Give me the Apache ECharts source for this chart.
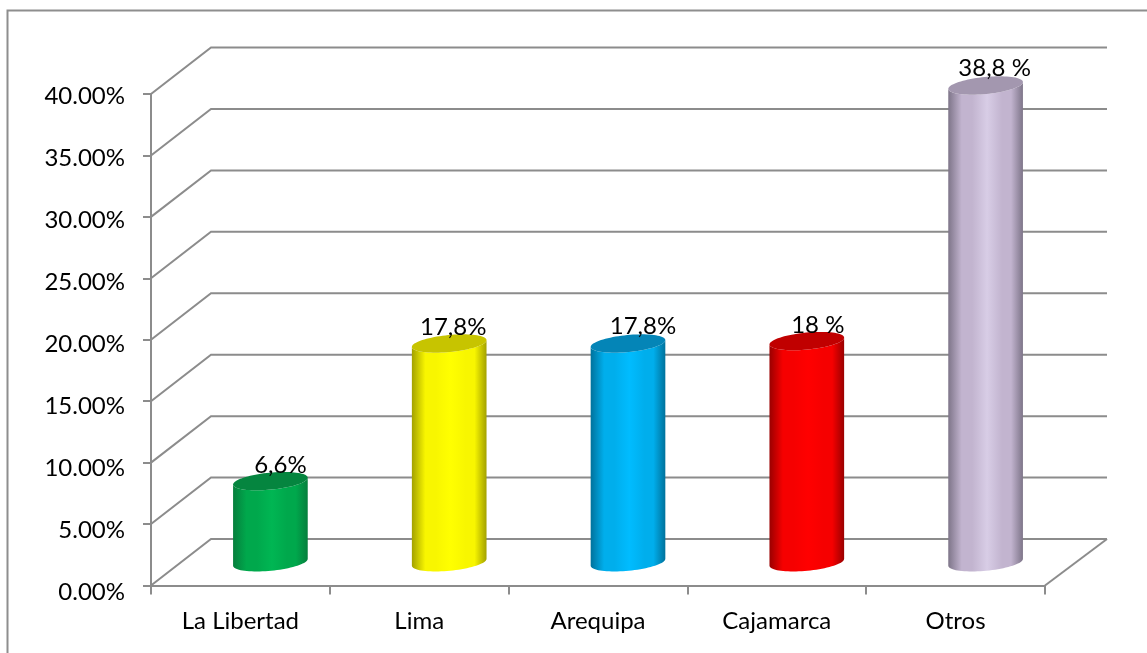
<!DOCTYPE html>
<html><head><meta charset="utf-8">
<style>html,body{margin:0;padding:0;background:#fff;overflow:hidden}#c{width:1147px;height:653px}</style>
<script src="https://cdn.jsdelivr.net/npm/echarts@6/dist/echarts.min.js"></script>
</head><body><div id="c"></div>
<script>
const categories = ['La Libertad','Lima','Arequipa','Cajamarca','Otros'];
const values = [6.6,17.8,17.8,18,38.8];
const valueLabels = ['6,6%','17,8%','17,8%','18 %','38,8 %'];
const labelShift = [[10,-7],[4,-8],[15,-9],[11,-7],[9,-9]];
const gridValues = [0,5,10,15,20,25,30,35,40];
const bodyDark = ['#067F3D','#A3A100','#00729C','#9A0000','#7E7589'];
const bodyMid = ['#00A84C','#F8F600','#00AEEC','#F60000','#C2B4CF'];
const bodyLight = ['#00B653','#FFFF00','#00BCFF','#FF0000','#D8CDE6'];
const topColor = ['#05853F','#C7C400','#0485B7','#C00000','#A397AF'];

const FONT = 'Lato';
const LINE = '#8C8C8C';
const DX = 60, DY = -46.5;

function ellipsePts(cx, cy, a, b, tilt, from, to, n) {
  const out = [];
  for (let i = 0; i <= n; i++) {
    const t = from + (to - from) * i / n;
    const x = a * Math.cos(t), y = b * Math.sin(t);
    out.push([cx + x * Math.cos(tilt) - y * Math.sin(tilt), cy + x * Math.sin(tilt) + y * Math.cos(tilt)]);
  }
  return out;
}
const chart = echarts.init(document.getElementById('c'), null, {renderer:'canvas'});
chart.setOption({
  animation:false,
  backgroundColor:'#fff',
  graphic:[{type:'rect',z:-10,shape:{x:7.5,y:10.5,width:1200,height:700},style:{fill:'#fff',stroke:'#8E8E8E',lineWidth:2}}],
  grid:[
    {left:151,right:102,top:94,bottom:67.5,containLabel:false},
    {left:151,right:102,top:96.7,height:496,containLabel:false}
  ],
  xAxis:[
    {type:'category',data:categories,gridIndex:0,
     axisLine:{show:true,onZero:false,lineStyle:{color:LINE,width:2}},
     axisTick:{show:true,alignWithLabel:false,length:9,lineStyle:{color:LINE,width:2}},
     axisLabel:{color:'#000',fontFamily:FONT,fontSize:24,margin:24,interval:0},
     splitLine:{show:false}},
    {type:'category',data:categories,gridIndex:1,show:false}
  ],
  yAxis:[
    {type:'value',min:0,max:40,interval:5,gridIndex:0,
     axisLine:{show:true,lineStyle:{color:LINE,width:2}},
     axisTick:{show:true,length:8,lineStyle:{color:LINE,width:2}},
     axisLabel:{show:false},
     splitLine:{show:false}},
    {type:'value',min:0,max:40,interval:5,gridIndex:1,
     axisLine:{show:false},axisTick:{show:false},splitLine:{show:false},
     axisLabel:{color:'#000',fontFamily:FONT,fontSize:24,margin:26,padding:[5,0,0,0],formatter:v=>v.toFixed(2)+'%'}}
  ],
  series:[
    {type:'custom',z:1,silent:true,coordinateSystem:'cartesian2d',xAxisIndex:0,yAxisIndex:0,
     data:gridValues.map(v=>[0,v]),
     renderItem(p,api){
       const y=api.coord([0,api.value(1)])[1];
       const cs=p.coordSys;
       return {type:'polyline',shape:{points:[[cs.x,y],[cs.x+DX,y+DY],[cs.x+cs.width+DX+2,y+DY]]},
         style:{fill:null,stroke:LINE,lineWidth:2}};
     }},
    {type:'custom',z:1,silent:true,coordinateSystem:'cartesian2d',xAxisIndex:0,yAxisIndex:0,
     data:[0],
     renderItem(p,api){
       const cs=p.coordSys, b=cs.y+cs.height;
       return {type:'line',shape:{x1:cs.x+cs.width,y1:b,x2:cs.x+cs.width+DX+2,y2:b+DY},style:{stroke:LINE,lineWidth:2}};
     }},
    {type:'custom',z:3,silent:true,coordinateSystem:'cartesian2d',xAxisIndex:0,yAxisIndex:0,
     data:values.map((v,i)=>[i,v]),
     encode:{x:0,y:1},
     renderItem(p,api){
       const i=api.value(0), v=api.value(1);
       const top=api.coord([i,v]), base=api.coord([i,0]);
       const cx=top[0]+DX/2, ty=top[1]+DY/2, by=base[1]+DY/2;
       const a=37.5,b=8.5,tilt=-5.5*Math.PI/180;
       const lower=ellipsePts(cx,by,a,b,tilt,Math.PI,0,40);
       const upper=ellipsePts(cx,ty,a,b,tilt,0,Math.PI,40);
       const body=lower.concat(upper);
       const grad=new echarts.graphic.LinearGradient(0,0,1,0,[
         {offset:0,color:bodyDark[i]},{offset:0.18,color:bodyMid[i]},{offset:0.32,color:bodyMid[i]},
         {offset:0.52,color:bodyLight[i]},{offset:0.72,color:bodyMid[i]},{offset:0.84,color:bodyMid[i]},{offset:1,color:bodyDark[i]}]);
       return {type:'group',children:[
         {type:'polygon',shape:{points:body},style:{fill:grad}},
         {type:'polygon',shape:{points:ellipsePts(cx,ty,a,b,tilt,0,Math.PI*2,80)},style:{fill:topColor[i]}},
         {type:'text',z2:10,style:{x:cx+labelShift[i][0],y:ty-b+labelShift[i][1],text:valueLabels[i],align:'center',verticalAlign:'middle',
           fill:'#000',fontFamily:FONT,fontSize:24}}
       ]};
     }}
  ]
});
</script></body></html>
